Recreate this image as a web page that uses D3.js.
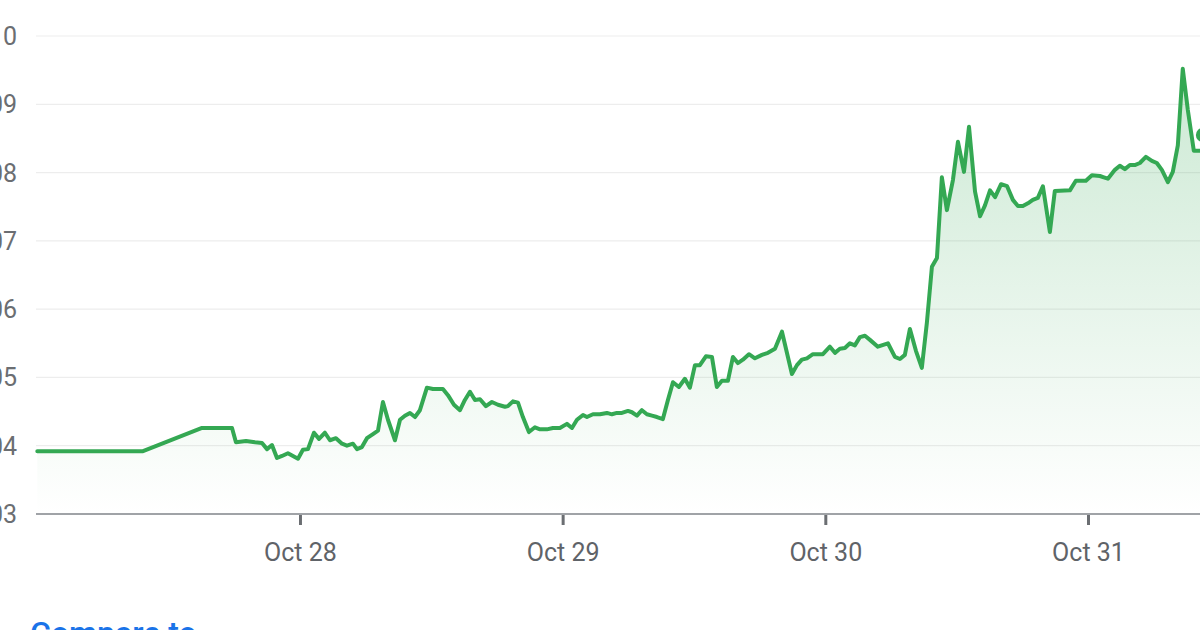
<!DOCTYPE html>
<html>
<head>
<meta charset="utf-8">
<script src="https://cdn.jsdelivr.net/npm/d3@7"></script>
<style>
  html, body { margin: 0; padding: 0; background: #fff; overflow: hidden; }
  svg { display: block; font-family: Roboto, "Noto Sans", sans-serif; }
</style>
</head>
<body>
<svg id="chart" width="1200" height="630"></svg>
<script>
// Hours since Oct 27 00:00
const hours = [0, 9.66, 15.05, 17.79, 18.15, 19.07, 19.89, 20.53, 20.99, 21.44, 21.90, 22.36, 22.90, 23.82, 24.27, 24.73,
  25.28, 25.74, 26.28, 26.74, 27.29, 27.84, 28.29, 28.84, 29.21, 29.66, 30.12, 30.67, 31.13, 31.58, 32.04, 32.68,
  33.14, 33.59, 34.05, 34.51, 34.96, 35.60, 36.15, 37.06, 37.52, 38.07, 38.62, 39.07, 39.53, 39.99, 40.45, 40.99,
  41.54, 42.09, 42.73, 43.00, 43.46, 43.92, 44.37, 44.92, 45.47, 45.93, 46.56, 47.11, 47.75, 48.39, 48.85, 49.31,
  49.86, 50.22, 50.77, 51.41, 52.05, 52.50, 52.96, 53.42, 53.97, 54.33, 54.79, 55.24, 55.70, 56.16, 56.62, 57.16,
  57.62, 58.08, 58.62, 59.17, 59.63, 60.09, 60.54, 61.09, 61.64, 62.09, 62.55, 63.10, 63.56, 64.01, 64.47, 65.02,
  65.57, 66.21, 66.76, 67.40, 68.04, 68.95, 69.41, 69.86, 70.32, 70.87, 71.78, 72.42, 72.88, 73.33, 73.79, 74.25,
  74.70, 75.16, 75.62, 76.08, 76.80, 77.72, 78.36, 78.82, 79.27, 79.73, 80.28, 80.82, 81.28, 81.74, 82.20, 82.65,
  83.11, 83.66, 84.12, 84.67, 85.13, 85.68, 86.14, 86.59, 87.05, 87.51, 88.06, 88.61, 89.14, 89.60, 90.05, 90.51,
  90.96, 91.42, 91.88, 92.52, 92.97, 94.35, 94.89, 95.81, 96.36, 97.09, 97.45, 97.82, 98.46, 98.91, 99.37, 99.83,
  100.28, 100.74, 101.29, 101.84, 102.29, 102.75, 103.30, 103.75, 104.21, 104.66, 105.12, 105.67, 106.22, 106.77];

const prices = [103.92, 103.92, 104.26, 104.26, 104.05, 104.07, 104.05, 104.04, 103.95, 104.01, 103.82, 103.85, 103.89, 103.81, 103.94, 103.95,
  104.19, 104.10, 104.19, 104.08, 104.11, 104.03, 104.00, 104.03, 103.95, 103.98, 104.11, 104.17, 104.22, 104.64, 104.38, 104.08,
  104.38, 104.44, 104.48, 104.42, 104.52, 104.85, 104.83, 104.83, 104.74, 104.60, 104.52, 104.67, 104.79, 104.67, 104.68, 104.58,
  104.64, 104.60, 104.57, 104.58, 104.65, 104.63, 104.42, 104.20, 104.27, 104.24, 104.24, 104.26, 104.26, 104.32, 104.26, 104.38,
  104.45, 104.42, 104.46, 104.46, 104.48, 104.46, 104.48, 104.48, 104.51, 104.49, 104.44, 104.52, 104.46, 104.44, 104.42, 104.39,
  104.67, 104.93, 104.86, 104.98, 104.85, 105.18, 105.18, 105.31, 105.30, 104.86, 104.95, 104.95, 105.30, 105.21, 105.26, 105.34,
  105.28, 105.33, 105.36, 105.42, 105.67, 105.05, 105.18, 105.26, 105.28, 105.34, 105.34, 105.45, 105.36, 105.42, 105.43, 105.50,
  105.47, 105.59, 105.61, 105.55, 105.45, 105.50, 105.30, 105.27, 105.33, 105.71, 105.39, 105.14, 105.80, 106.62, 106.75, 107.93,
  107.45, 107.89, 108.45, 108.01, 108.67, 107.72, 107.36, 107.52, 107.74, 107.64, 107.83, 107.80, 107.60, 107.51, 107.51, 107.55,
  107.60, 107.63, 107.80, 107.13, 107.73, 107.74, 107.88, 107.88, 107.96, 107.95, 107.93, 107.91, 108.04, 108.10, 108.05, 108.11,
  108.11, 108.14, 108.23, 108.17, 108.14, 108.04, 107.86, 108.01, 108.40, 109.52, 108.92, 108.32, 108.32, 108.33];

const markerHour = 106.5;
const markerPrice = 108.55;

const yTicks = [103, 104, 105, 106, 107, 108, 109, 110];
const yTickLabels = ["103", "104", "105", "106", "107", "108", "109", "110"];
const xTickDays = [28, 29, 30, 31];
const xTickLabels = ["Oct 28", "Oct 29", "Oct 30", "Oct 31"];
const compareLabel = "Compare to";

// ---- drawing ----
const base = new Date(2024, 9, 27, 0, 0, 0);
const toDate = h => new Date(base.getTime() + h * 3600 * 1000);
const data = hours.map((h, i) => ({ t: toDate(h), v: prices[i] }));

const svg = d3.select("#chart");
const dayPx = 262.67;
const x = d3.scaleTime()
  .domain([base, new Date(2024, 10, 1, 0, 0, 0)])
  .range([37.3, 37.3 + 5 * dayPx]);
const y = d3.scaleLinear().domain([103, 110]).range([514, 36]);

const green = "#34a853";

// gradient
const defs = svg.append("defs");
const grad = defs.append("linearGradient")
  .attr("id", "areaGrad")
  .attr("gradientUnits", "userSpaceOnUse")
  .attr("x1", 0).attr("x2", 0)
  .attr("y1", y(110)).attr("y2", y(103));
grad.append("stop").attr("offset", 0).attr("stop-color", green).attr("stop-opacity", 0.27);
grad.append("stop").attr("offset", 1).attr("stop-color", green).attr("stop-opacity", 0.0);

// grid lines
svg.append("g").selectAll("line")
  .data(yTicks.filter(d => d !== 103))
  .join("line")
  .attr("x1", 36).attr("x2", 1200)
  .attr("y1", d => y(d)).attr("y2", d => y(d))
  .attr("stroke", "#ededed").attr("stroke-width", 1.2);

// y labels
svg.append("g").selectAll("text")
  .data(yTicks)
  .join("text")
  .attr("x", 17)
  .attr("y", d => y(d))
  .attr("dy", "0.36em")
  .attr("text-anchor", "end")
  .attr("font-size", 25)
  .attr("fill", "#6b6e72")
  .text((d, i) => yTickLabels[i]);

// area
const area = d3.area()
  .x(d => x(d.t))
  .y0(y(103))
  .y1(d => y(d.v));
svg.append("path")
  .datum(data)
  .attr("d", area)
  .attr("fill", "url(#areaGrad)");

// x axis
const xAxis = d3.axisBottom(x)
  .tickValues(xTickDays.map(d => new Date(2024, 9, d)))
  .tickFormat((d, i) => xTickLabels[i])
  .tickSize(11)
  .tickPadding(18);
const gx = svg.append("g")
  .attr("transform", `translate(0,${y(103)})`)
  .call(xAxis);
gx.select(".domain").remove();
gx.selectAll(".tick line").attr("stroke", "#6b6e72").attr("stroke-width", 3);
gx.selectAll(".tick text")
  .attr("font-size", 25)
  .attr("fill", "#5f6368")
  .attr("font-family", "Roboto, sans-serif");
svg.append("line")
  .attr("x1", 36).attr("x2", 1200)
  .attr("y1", y(103)).attr("y2", y(103))
  .attr("stroke", "#a0a3a7").attr("stroke-width", 2.2);

// line
const line = d3.line()
  .x(d => x(d.t))
  .y(d => y(d.v));
svg.append("path")
  .datum(data)
  .attr("d", line)
  .attr("fill", "none")
  .attr("stroke", green)
  .attr("stroke-width", 4)
  .attr("stroke-linejoin", "round")
  .attr("stroke-linecap", "round");

// end marker
svg.append("circle")
  .attr("cx", x(toDate(markerHour)))
  .attr("cy", y(markerPrice))
  .attr("r", 7)
  .attr("fill", green);

// compare link
svg.append("text")
  .attr("x", 30)
  .attr("y", 644)
  .attr("font-size", 32)
  .attr("font-weight", 500)
  .attr("fill", "#1a73e8")
  .text(compareLabel);
</script>
</body>
</html>
